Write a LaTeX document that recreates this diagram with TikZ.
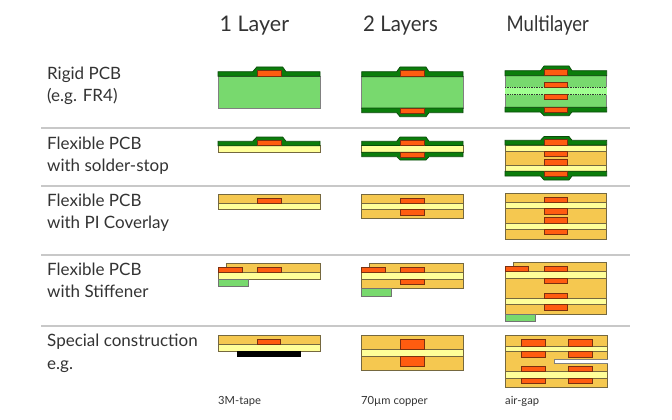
\documentclass[tikz,border=0pt]{standalone}
\usepackage{fontspec}
\setmainfont{Lato}
\usepackage{xcolor}
\definecolor{rigid}{HTML}{78D96E}
\definecolor{rigidlight}{HTML}{A0FF90}
\definecolor{mask}{HTML}{0B7D0B}
\definecolor{maskedge}{HTML}{0A4A0A}
\definecolor{copper}{HTML}{FF5C10}
\definecolor{copperedge}{HTML}{7A3010}
\definecolor{flexcore}{HTML}{FFFF99}
\definecolor{coverlay}{HTML}{F5C850}
\definecolor{layeredge}{HTML}{75683F}
\definecolor{rule}{HTML}{C8C8C8}
\definecolor{ink}{HTML}{333333}
\tikzset{
  coverfill/.style={fill=coverlay,draw=layeredge,line width=0.8pt},
  flexfill/.style={fill=flexcore,draw=layeredge,line width=0.8pt},
  rigidfill/.style={fill=rigid,draw=black!50,line width=0.8pt},
  maskfill/.style={fill=mask,draw=maskedge,line width=0.7pt},
  cufill/.style={fill=copper,draw=copperedge,line width=0.8pt},
  stifffill/.style={fill=rigid,draw=black!55,line width=0.8pt},
  sepline/.style={draw=rule,line width=1.6pt},
  coltitle/.style={anchor=base west,font=\fontsize{21.5}{25}\selectfont,text=ink,inner sep=0pt},
  rowlabel/.style={anchor=base west,font=\fontsize{17}{20}\selectfont,text=ink,inner sep=0pt},
  captext/.style={anchor=base west,font=\fontsize{11.2}{13}\selectfont,text=ink,inner sep=0pt}
}
\begin{document}
\begin{tikzpicture}[x=1pt,y=-1pt]
  \useasboundingbox (0,0) rectangle (672,420);

  % Column titles
  \node[coltitle] (title1) at (219.5,32) {1 Layer};
  \node[coltitle,xscale=0.95] (title2) at (363,32) {2 Layers};
  \node[coltitle,xscale=0.86] (title3) at (506.5,32) {Multilayer};

  % Row labels
  \node[rowlabel] (rigid1) at (47,79) {Rigid PCB};
  \node[rowlabel] (rigid2) at (47,101) {(e.g. FR4)};
  \node[rowlabel] (mask1) at (47,149) {Flexible PCB};
  \node[rowlabel] (mask2) at (47,171) {with solder-stop};
  \node[rowlabel] (pi1) at (47,206) {Flexible PCB};
  \node[rowlabel] (pi2) at (47,228) {with PI Coverlay};
  \node[rowlabel] (stiff1) at (47,275) {Flexible PCB};
  \node[rowlabel] (stiff2) at (47,297) {with Stiffener};
  \node[rowlabel] (special1) at (47,346) {Special construction};
  \node[rowlabel] (special2) at (47,369) {e.g.};

  % Separators
  \draw[sepline] (41,128) -- (630,128);
  \draw[sepline] (41,186) -- (630,186);
  \draw[sepline] (41,255) -- (630,255);
  \draw[sepline] (41,326) -- (630,326);

  % Rigid, 1 layer
  \draw[rigidfill] (218,76.3) rectangle (320,108);
  \draw[maskfill] (218,71.7) -- (252.7,71.7) -- (256.7,67) -- (282.7,67) -- (286,71.7) -- (320,71.7) -- (320,76.3) -- (218,76.3) -- cycle;
  \draw[cufill] (257.7,70.7) rectangle (281.7,76);

  % Rigid, 2 layers
  \draw[rigidfill] (361.7,76.7) rectangle (463,108);
  \draw[maskfill] (361.7,71.7) -- (396.7,71.7) -- (400,67) -- (426,67) -- (429,71.7) -- (463,71.7) -- (463,76.7) -- (361.7,76.7) -- cycle;
  \draw[maskfill] (361.7,108) -- (463,108) -- (463,112.7) -- (429,112.7) -- (426,116.7) -- (400,116.7) -- (396.7,112.7) -- (361.7,112.7) -- cycle;
  \draw[cufill] (400.7,70.7) rectangle (424.7,76);
  \draw[cufill] (400.7,108.3) rectangle (424.7,113.3);

  % Rigid, multilayer
  \draw[rigidfill] (505,75.7) rectangle (606.7,107.3);
  \fill[rigidlight] (505,87) rectangle (606.7,94.7);
  \draw[densely dotted,line width=0.7pt,black!80] (505,87) -- (606.7,87);
  \draw[densely dotted,line width=0.7pt,black!80] (505,94.7) -- (606.7,94.7);
  \draw[maskfill] (505,70.7) -- (540.5,70.7) -- (544,66) -- (569,66) -- (572,70.7) -- (606.7,70.7) -- (606.7,75.7) -- (505,75.7) -- cycle;
  \draw[maskfill] (505,107.3) -- (606.7,107.3) -- (606.7,112) -- (572,112) -- (569,115.7) -- (544,115.7) -- (540.5,112) -- (505,112) -- cycle;
  \draw[cufill] (544.7,69.5) rectangle (567.7,75.5);
  \draw[cufill] (544.7,82.3) rectangle (567.7,87);
  \draw[cufill] (544.7,94.7) rectangle (567.7,99.7);
  \draw[cufill] (544.7,107.3) rectangle (567.7,112.3);

  % Solder-stop, 1 layer
  \draw[flexfill] (218,145.7) rectangle (320,152.3);
  \draw[maskfill] (218,141.3) -- (252.7,141.3) -- (256.7,137) -- (282.7,137) -- (286,141.3) -- (320,141.3) -- (320,145.7) -- (218,145.7) -- cycle;
  \draw[cufill] (257.7,140.3) rectangle (281.7,145.7);

  % Solder-stop, 2 layers
  \draw[flexfill] (361.7,145.5) rectangle (463,152.3);
  \draw[maskfill] (361.7,141.3) -- (396.7,141.3) -- (400,137) -- (426,137) -- (429,141.3) -- (463,141.3) -- (463,145.5) -- (361.7,145.5) -- cycle;
  \draw[maskfill] (361.7,152.3) -- (463,152.3) -- (463,156.7) -- (429,156.7) -- (426,160) -- (400,160) -- (396.7,156.7) -- (361.7,156.7) -- cycle;
  \draw[cufill] (400.7,140.3) rectangle (424.7,145.5);
  \draw[cufill] (400.7,152.3) rectangle (424.7,157.7);

  % Solder-stop, multilayer
  \draw[flexfill] (505,145) rectangle (606.7,151.7);
  \draw[coverfill] (505,151.7) rectangle (606.7,165.7);
  \draw[flexfill] (505,165.7) rectangle (606.7,171.3);
  \draw[maskfill] (505,140.3) -- (540.5,140.3) -- (544,136.5) -- (569,136.5) -- (572,140.3) -- (606.7,140.3) -- (606.7,145) -- (505,145) -- cycle;
  \draw[maskfill] (505,171.3) -- (606.7,171.3) -- (606.7,176) -- (572,176) -- (569,180) -- (544,180) -- (540.5,176) -- (505,176) -- cycle;
  \draw[cufill] (544.7,139.5) rectangle (567.7,145);
  \draw[cufill] (544.7,151.7) rectangle (567.7,156.5);
  \draw[cufill] (544.7,159.3) rectangle (567.7,165.7);
  \draw[cufill] (544.7,171.3) rectangle (567.7,176.5);

  % PI coverlay, 1 layer
  \draw[coverfill] (218,194.3) rectangle (320,203.3);
  \draw[flexfill] (218,203.3) rectangle (320,209.7);
  \draw[cufill] (257.7,198.3) rectangle (281.7,203.3);

  % PI coverlay, 2 layers
  \draw[coverfill] (361.7,194.3) rectangle (463,203.3);
  \draw[coverfill] (361.7,209.5) rectangle (463,218.5);
  \draw[flexfill] (361.7,203.3) rectangle (463,209.5);
  \draw[cufill] (400.7,198.3) rectangle (424.7,203.3);
  \draw[cufill] (400.7,209.5) rectangle (424.7,215);

  % PI coverlay, multilayer
  \draw[coverfill] (505,193.3) rectangle (606.7,239);
  \draw[flexfill] (505,202.3) rectangle (606.7,208.3);
  \draw[flexfill] (505,223.5) rectangle (606.7,229.5);
  \draw[cufill] (544.7,197.3) rectangle (567.7,202.3);
  \draw[cufill] (544.7,208.3) rectangle (567.7,214);
  \draw[cufill] (544.7,217.3) rectangle (567.7,223.5);
  \draw[cufill] (544.7,229.5) rectangle (567.7,234.5);

  % Stiffener, 1 layer
  \draw[coverfill] (226.3,263.3) rectangle (320,272.3);
  \draw[flexfill] (218,272.3) rectangle (320,279.7);
  \draw[stifffill] (218,279.7) rectangle (248.7,286.3);
  \draw[cufill] (218,267.3) rectangle (242.7,272.3);
  \draw[cufill] (257.7,267.3) rectangle (281.7,272.3);

  % Stiffener, 2 layers
  \draw[coverfill] (369.3,263.3) rectangle (463,272.3);
  \draw[coverfill] (361.7,279.3) rectangle (463,288.7);
  \draw[flexfill] (361.7,272.3) rectangle (463,279.3);
  \draw[stifffill] (361.7,288.7) rectangle (391.7,296);
  \draw[cufill] (361.7,267.3) rectangle (385.7,272.3);
  \draw[cufill] (400.7,267.3) rectangle (424.7,272.3);
  \draw[cufill] (400.7,279.3) rectangle (424.7,284.5);

  % Stiffener, multilayer
  \draw[coverfill] (513.3,262.3) rectangle (606.7,271.3);
  \draw[coverfill] (505,278.3) rectangle (606.7,314);
  \draw[flexfill] (505,271.3) rectangle (606.7,278.3);
  \draw[flexfill] (505,298.5) rectangle (606.7,304.5);
  \draw[stifffill] (505,314) rectangle (535.7,321);
  \draw[cufill] (505,266.3) rectangle (528.7,271.3);
  \draw[cufill] (544.7,266.3) rectangle (567.7,271.3);
  \draw[cufill] (544.7,278.3) rectangle (567.7,283.5);
  \draw[cufill] (544.7,293.3) rectangle (567.7,298.5);
  \draw[cufill] (544.7,304.5) rectangle (567.7,310);

  % Special, 3M tape
  \draw[coverfill] (218,335.3) rectangle (320,344.5);
  \draw[flexfill] (218,344.5) rectangle (320,351.3);
  \fill[black] (237,351.3) rectangle (301,357);
  \draw[cufill] (257.3,339.3) rectangle (280.7,344.5);

  % Special, thick copper
  \draw[coverfill] (361.7,335.3) rectangle (463,370.5);
  \draw[flexfill] (361.7,349) rectangle (463,356.5);
  \draw[cufill] (400.7,339.3) rectangle (424.7,349);
  \draw[cufill] (400.7,356.5) rectangle (424.7,366.5);

  % Special, air gap
  \draw[coverfill] (505.3,335.3) rectangle (607.7,387.5);
  \draw[flexfill] (505.3,346) rectangle (607.7,351.7);
  \draw[flexfill] (505.3,371.5) rectangle (607.7,378);
  \draw[fill=white,draw=black!50,line width=0.8pt] (607.7,359.3) -- (554.3,359.3) -- (554.3,363.7) -- (607.7,363.7);
  \draw[cufill] (521.3,339.3) rectangle (545.7,346);
  \draw[cufill] (568.3,339.3) rectangle (592.7,346);
  \draw[cufill] (521.3,351.7) rectangle (545.7,357);
  \draw[cufill] (568.3,351.7) rectangle (592.7,357);
  \draw[cufill] (521.3,366) rectangle (545.7,371.5);
  \draw[cufill] (568.3,366) rectangle (592.7,371.5);
  \draw[cufill] (521.3,378) rectangle (545.7,383.5);
  \draw[cufill] (568.3,378) rectangle (592.7,383.5);

  % Captions
  \node[captext] (cap1) at (218,404) {3M-tape};
  \node[captext] (cap2) at (361,404) {70µm copper};
  \node[captext] (cap3) at (505,404) {air-gap};
\end{tikzpicture}
\end{document}
